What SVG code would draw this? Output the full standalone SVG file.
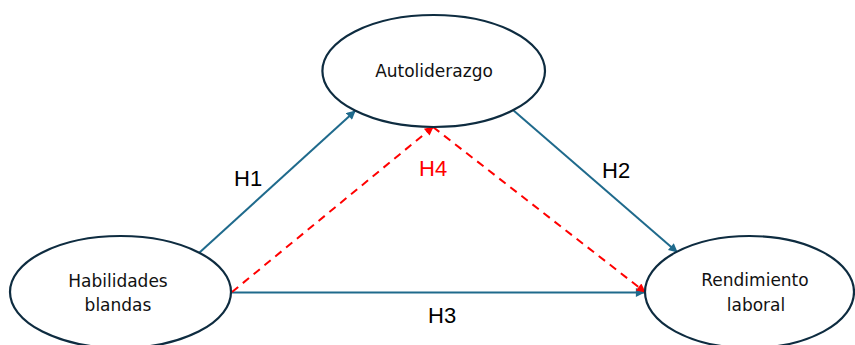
<svg xmlns="http://www.w3.org/2000/svg" width="855" height="345" viewBox="0 0 855 345">
<defs>
<style>
.node{fill:#fff;stroke:#0e2c40;stroke-width:2.2}
.nt{font-family:"DejaVu Sans",Tahoma,sans-serif;font-size:17px;fill:#111;text-anchor:middle}
.lb{font-family:"Liberation Sans",Arial,sans-serif;font-size:22px;fill:#000}
.blue{stroke:#1f6a8c;stroke-width:2;fill:none}
.red{stroke:#ff0000;stroke-width:2;fill:none;stroke-dasharray:8 6}
</style>
<marker id="ab" viewBox="0 0 10 10" refX="9" refY="5" markerWidth="11" markerHeight="9" markerUnits="userSpaceOnUse" orient="auto"><path d="M0,0 L10,5 L0,10 z" fill="#1f6a8c"/></marker>
<marker id="ar" viewBox="0 0 10 10" refX="9" refY="5" markerWidth="11" markerHeight="9" markerUnits="userSpaceOnUse" orient="auto"><path d="M0,0 L10,5 L0,10 z" fill="#ff0000"/></marker>
</defs>
<rect width="855" height="345" fill="#fff"/>
<g id="connectors">
<line class="blue" x1="199" y1="253" x2="355" y2="111" marker-end="url(#ab)"/>
<line class="blue" x1="513" y1="110" x2="677" y2="252" marker-end="url(#ab)"/>
<line class="blue" x1="232" y1="292.5" x2="644" y2="292.5" marker-end="url(#ab)"/>
<line class="red" x1="232" y1="292" x2="433" y2="127" marker-end="url(#ar)"/>
<line class="red" x1="433" y1="127" x2="645" y2="292" marker-end="url(#ar)"/>
</g>
<g id="autoliderazgo">
<ellipse class="node" cx="433.7" cy="71" rx="111.3" ry="56"/>
<text class="nt" x="434" y="77">Autoliderazgo</text>
</g>
<g id="habilidades">
<ellipse class="node" cx="120.5" cy="292" rx="110.5" ry="56"/>
<text class="nt" x="118" y="287">Habilidades</text>
<text class="nt" x="118" y="311">blandas</text>
</g>
<g id="rendimiento">
<ellipse class="node" cx="749.5" cy="292" rx="104.5" ry="56"/>
<text class="nt" x="755" y="286">Rendimiento</text>
<text class="nt" x="756" y="311">laboral</text>
</g>
<g id="labels">
<text class="lb" x="234" y="186">H1</text>
<text class="lb" x="602" y="178">H2</text>
<text class="lb" x="428" y="323">H3</text>
<text class="lb" x="419" y="176" fill="#ff0000" style="fill:#ff0000">H4</text>
</g>
</svg>
